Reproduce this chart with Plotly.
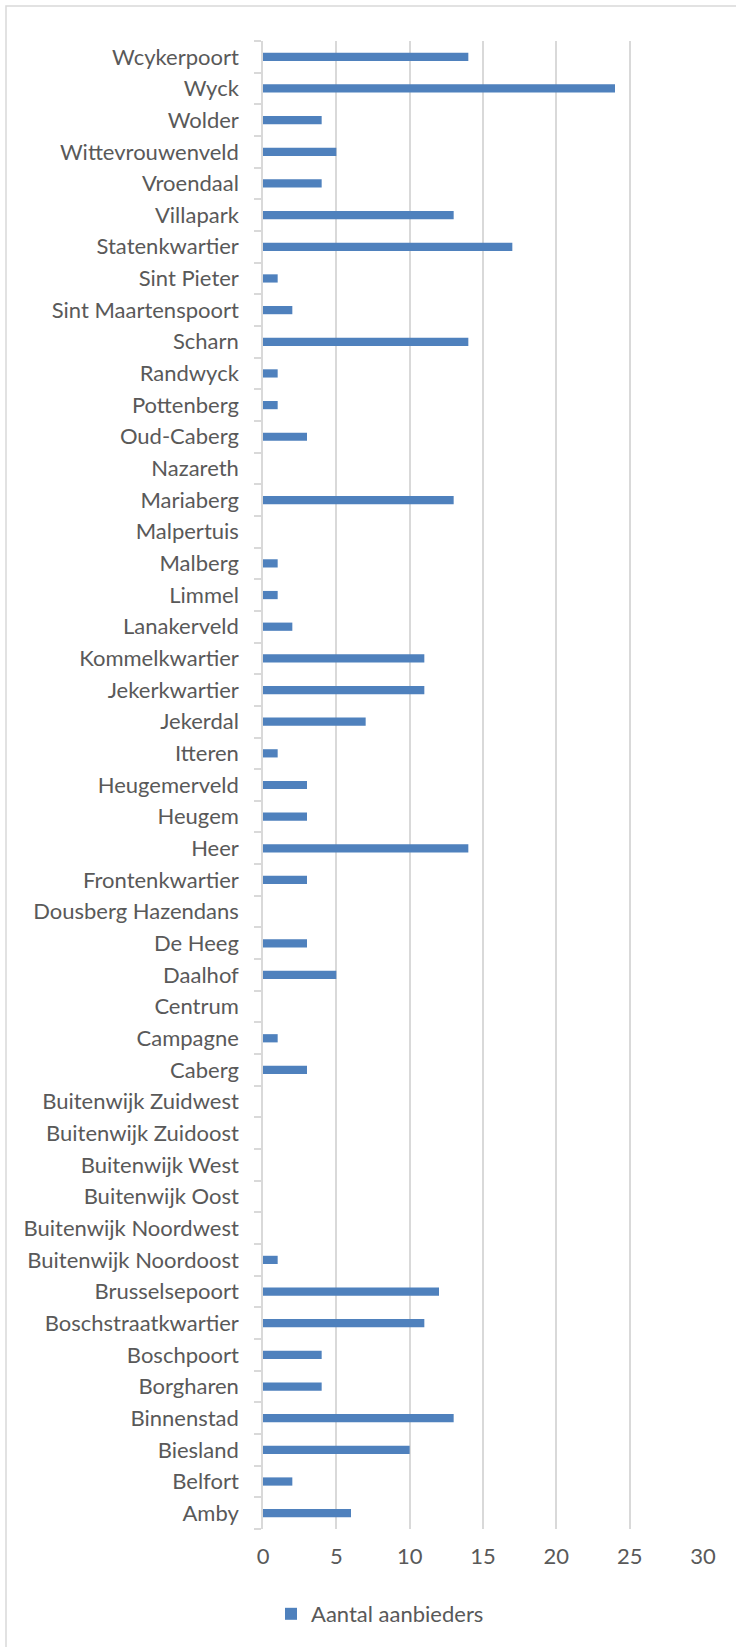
import plotly.graph_objects as go

# Categories listed bottom -> top (as plotted)
neighbourhoods = [
    "Amby", "Belfort", "Biesland", "Binnenstad", "Borgharen", "Boschpoort",
    "Boschstraatkwartier", "Brusselsepoort", "Buitenwijk Noordoost",
    "Buitenwijk Noordwest", "Buitenwijk Oost", "Buitenwijk West",
    "Buitenwijk Zuidoost", "Buitenwijk Zuidwest", "Caberg", "Campagne",
    "Centrum", "Daalhof", "De Heeg", "Dousberg Hazendans", "Frontenkwartier",
    "Heer", "Heugem", "Heugemerveld", "Itteren", "Jekerdal", "Jekerkwartier",
    "Kommelkwartier", "Lanakerveld", "Limmel", "Malberg", "Malpertuis",
    "Mariaberg", "Nazareth", "Oud-Caberg", "Pottenberg", "Randwyck", "Scharn",
    "Sint Maartenspoort", "Sint Pieter", "Statenkwartier", "Villapark",
    "Vroendaal", "Wittevrouwenveld", "Wolder", "Wyck", "Wcykerpoort",
]
aantal_aanbieders = [
    6, 2, 10, 13, 4, 4,
    11, 12, 1,
    0, 0, 0,
    0, 0, 3, 1,
    0, 5, 3, 0, 3,
    14, 3, 3, 1, 7, 11,
    11, 2, 1, 1, 0,
    13, 0, 3, 1, 1, 14,
    2, 1, 17, 13,
    4, 5, 4, 24, 14,
]
x_ticks = [0, 5, 10, 15, 20, 25, 30]
series_name = "Aantal aanbieders"

W, H = 736, 1647
ML, MR, MT, MB = 263, 33, 41, 118
pw, ph = W - ML - MR, H - MT - MB

def px_to_paper_x(px):
    return (px - ML) / pw

def px_to_paper_y(py):
    return (H - MB - py) / ph

FONT = "Lato"
FS = 22
TXT = "#595959"
GRID = "#D9D9D9"

fig = go.Figure(
    go.Bar(
        x=aantal_aanbieders,
        y=neighbourhoods,
        orientation="h",
        name=series_name,
        marker=dict(color="#4F81BD", line=dict(width=0)),
        showlegend=True,
    )
)

fig.update_layout(
    width=W,
    height=H,
    margin=dict(l=ML, r=MR, t=MT, b=MB, autoexpand=False),
    paper_bgcolor="white",
    plot_bgcolor="white",
    bargap=0.74,
    font=dict(family=FONT, size=FS, color=TXT),
    showlegend=True,
    legend=dict(
        orientation="h",
        x=px_to_paper_x(380),
        xanchor="center",
        y=px_to_paper_y(1614),
        yanchor="middle",
        font=dict(family=FONT, size=FS, color=TXT),
        itemwidth=30,
        bgcolor="rgba(0,0,0,0)",
    ),
    xaxis=dict(
        range=[0, 30],
        tickvals=x_ticks,
        ticktext=[str(v) for v in x_ticks],
        showgrid=True,
        gridcolor=GRID,
        gridwidth=1.5,
        zeroline=False,
        showline=False,
        ticks="",
        ticklabelstandoff=12,
        tickfont=dict(family=FONT, size=FS, color=TXT),
        fixedrange=True,
        automargin=False,
    ),
    yaxis=dict(
        type="category",
        categoryorder="array",
        categoryarray=neighbourhoods,
        showgrid=False,
        zeroline=False,
        showline=True,
        linecolor=GRID,
        linewidth=1.5,
        ticks="outside",
        tickson="boundaries",
        ticklen=7,
        tickcolor=GRID,
        tickwidth=1.5,
        ticklabelstandoff=18,
        tickfont=dict(family=FONT, size=FS, color=TXT),
        automargin=False,
        fixedrange=True,
    ),
    shapes=[
        dict(
            type="rect",
            xref="paper",
            yref="paper",
            x0=px_to_paper_x(6),
            x1=px_to_paper_x(745),
            y0=px_to_paper_y(1660),
            y1=px_to_paper_y(6),
            line=dict(color=GRID, width=1.5),
            fillcolor="rgba(0,0,0,0)",
            layer="below",
        )
    ],
)

fig.write_html("out.html")
